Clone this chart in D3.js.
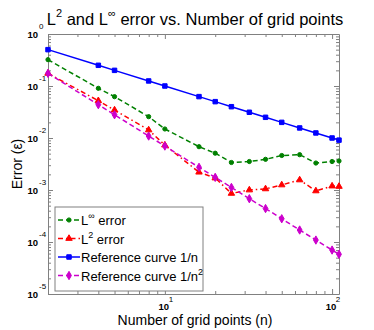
<!DOCTYPE html>
<html>
<head>
<meta charset="utf-8">
<script src="https://cdn.jsdelivr.net/npm/d3@7"></script>
<style>
	body { margin: 0; background: #fff; }
	svg { display: block; font-family: "Liberation Sans", Arial, sans-serif; }
	.domain { stroke: #808080; }
	.tick line { stroke: #808080; }
</style>
</head>
<body>
<div id="chart"></div>
<script>

// data
// ----------------------------------------

var grid_n = [2, 4, 5, 8, 10, 16, 20, 25, 32, 40, 50, 64, 80, 100, 110];

var err_inf = [0.321, 0.0903, 0.0623, 0.0257, 0.0149, 0.0068, 0.0051, 0.00338, 0.00353, 0.00389, 0.00461, 0.00477, 0.0033, 0.00353, 0.00361];
var err_l2 = [0.175, 0.0521, 0.0345, 0.01426, 0.0073, 0.0022, 0.0017, 0.00086, 0.001, 0.00105, 0.00125, 0.00156, 0.00096, 0.00119, 0.00117];
var ref_n = [0.5, 0.25, 0.2, 0.125, 0.1, 0.0625, 0.05, 0.04, 0.03125, 0.025, 0.02, 0.0156, 0.0125, 0.01, 0.0091];
var ref_n2 = [0.175, 0.0437, 0.028, 0.0109, 0.007, 0.00273, 0.00175, 0.00112, 0.00068, 0.00044, 0.00028, 0.00017, 0.000109, 0.00007, 0.000058];

var x_major = [10, 100];
var y_major = [1, 0.1, 0.01, 0.001, 0.0001, 0.00001];

// main variables
// ----------------------------------------

var width = 374,
	height = 330;

var margin = {top: 34, right: 35, bottom: 36, left: 48};

var svg = d3.select("#chart")
	.append("svg")
	.attr("width", width)
	.attr("height", height);

var x = d3.scaleLog()
	.domain([2, 110])
	.range([margin.left, width - margin.right]);

var y = d3.scaleLog()
	.domain([1e-5, 1])
	.range([height - margin.bottom, margin.top]);

// axes (ticks inside, box on)
// ----------------------------------------

function tick_len(d) {
	var e = Math.log10(d);
	return Math.abs(e - Math.round(e)) < 1e-9 ? 5 : 3;
}

function axis_ticks(g, scale, orient) {
	var ticks = scale.ticks();
	var axis = orient(scale).tickValues(ticks).tickFormat("").tickSizeOuter(0);
	g.call(axis);
	g.selectAll(".tick line").each(function(d) {
		var l = tick_len(d);
		var sel = d3.select(this);
		if (orient === d3.axisBottom) sel.attr("y2", -l);
		if (orient === d3.axisTop) sel.attr("y2", l);
		if (orient === d3.axisLeft) sel.attr("x2", l);
		if (orient === d3.axisRight) sel.attr("x2", -l);
	});
}

svg.append("g").attr("transform", "translate(0," + y.range()[0] + ")")
	.call(function(g) { axis_ticks(g, x, d3.axisBottom); });
svg.append("g").attr("transform", "translate(0," + y.range()[1] + ")")
	.call(function(g) { axis_ticks(g, x, d3.axisTop); });
svg.append("g").attr("transform", "translate(" + x.range()[0] + ",0)")
	.call(function(g) { axis_ticks(g, y, d3.axisLeft); });
svg.append("g").attr("transform", "translate(" + x.range()[1] + ",0)")
	.call(function(g) { axis_ticks(g, y, d3.axisRight); });

// tick labels with exponents
svg.selectAll(".xlab")
	.data(x_major)
	.enter()
	.append("text")
	.attr("x", function(d) { return x(d) - 1; })
	.attr("y", 310)
	.attr("text-anchor", "middle")
	.attr("font-size", 9.5)
	.attr("font-weight", "bold")
	.text("10");

svg.selectAll(".xexp")
	.data(x_major)
	.enter()
	.append("text")
	.attr("x", function(d) { return x(d) + 6; })
	.attr("y", 302)
	.attr("text-anchor", "middle")
	.attr("font-size", 8)
	.text(function(d) { return Math.round(Math.log10(d)); });

svg.selectAll(".ylab")
	.data(y_major)
	.enter()
	.append("text")
	.attr("x", 38)
	.attr("y", function(d) { return y(d) + 4; })
	.attr("text-anchor", "end")
	.attr("font-size", 9.5)
	.attr("font-weight", "bold")
	.text("10");

svg.selectAll(".yexp")
	.data(y_major)
	.enter()
	.append("text")
	.attr("x", 39)
	.attr("y", function(d) { return y(d) - 5; })
	.attr("font-size", 8)
	.text(function(d) { return Math.round(Math.log10(d)); });

// axis titles
svg.append("text")
	.attr("x", 195)
	.attr("y", 325)
	.attr("text-anchor", "middle")
	.attr("font-size", 14)
	.text("Number of grid points (n)");

svg.append("text")
	.attr("transform", "translate(22,164) rotate(-90)")
	.attr("text-anchor", "middle")
	.attr("font-size", 14)
	.text("Error (\u03b5)");

// title
var title = svg.append("text")
	.attr("x", 195)
	.attr("y", 25)
	.attr("text-anchor", "middle")
	.attr("font-size", 16.5);
title.append("tspan").text("L");
title.append("tspan").attr("font-size", 11).attr("dy", -8).text("2");
title.append("tspan").attr("dy", 8).text(" and L");
title.append("tspan").attr("font-size", 11).attr("dy", -8).text("\u221e");
title.append("tspan").attr("dy", 8).text(" error vs. Number of grid points");

// series
// ----------------------------------------

var series = [
	{name: "inf", values: err_inf, color: "#008000", dash: "5,3", marker: "circle", size: 14},
	{name: "l2", values: err_l2, color: "#ff0000", dash: "5,3,1.5,3", marker: "triangle", size: 18},
	{name: "ref1", values: ref_n, color: "#0000ff", dash: null, marker: "square", size: 20},
	{name: "ref2", values: ref_n2, color: "#cc00cc", dash: "5,3", marker: "diamond", size: 20}
];

var symbols = {
	circle: d3.symbolCircle,
	triangle: d3.symbolTriangle,
	square: d3.symbolSquare,
	diamond: d3.symbolDiamond
};

var line = d3.line()
	.x(function(d, i) { return x(grid_n[i]); })
	.y(function(d) { return y(d); });

var plot = svg.append("g").attr("id", "d3_plot");

series.forEach(function(s) {
	plot.append("path")
		.attr("d", line(s.values))
		.attr("fill", "none")
		.attr("stroke", s.color)
		.attr("stroke-width", 1.5)
		.attr("stroke-dasharray", s.dash);

	plot.selectAll(".m_" + s.name)
		.data(s.values)
		.enter()
		.append("path")
		.attr("class", "m_" + s.name)
		.attr("transform", function(d, i) {
			return "translate(" + x(grid_n[i]) + "," + y(d) + ")";
		})
		.attr("d", d3.symbol().type(symbols[s.marker]).size(s.size))
		.attr("fill", s.color)
		.attr("stroke", s.color)
		.attr("stroke-width", 1);
});

// legend
// ----------------------------------------

var legend = svg.append("g").attr("class", "legend");

legend.append("rect")
	.attr("x", 55)
	.attr("y", 207)
	.attr("width", 148)
	.attr("height", 84)
	.attr("fill", "#fff")
	.attr("stroke", "#808080");

var leg_labels = [
	["L", "\u221e", " error"],
	["L", "2", " error"],
	["Reference curve 1/n", "", ""],
	["Reference curve 1/n", "2", ""]
];

series.forEach(function(s, i) {
	var ly = 220 + i * 18.5;
	legend.append("line")
		.attr("x1", 58).attr("x2", 80)
		.attr("y1", ly).attr("y2", ly)
		.attr("stroke", s.color)
		.attr("stroke-width", 1.5)
		.attr("stroke-dasharray", s.dash);
	legend.append("path")
		.attr("transform", "translate(69," + ly + ")")
		.attr("d", d3.symbol().type(symbols[s.marker]).size(s.size))
		.attr("fill", s.color)
		.attr("stroke", s.color);
	var t = legend.append("text")
		.attr("x", 81)
		.attr("y", ly + 5)
		.attr("font-size", 13);
	t.append("tspan").text(leg_labels[i][0]);
	if (leg_labels[i][1] != "") {
		t.append("tspan").attr("font-size", 9).attr("dy", -6).text(leg_labels[i][1]);
		t.append("tspan").attr("dy", 6).text(leg_labels[i][2]);
	}
});

</script>
</body>
</html>
